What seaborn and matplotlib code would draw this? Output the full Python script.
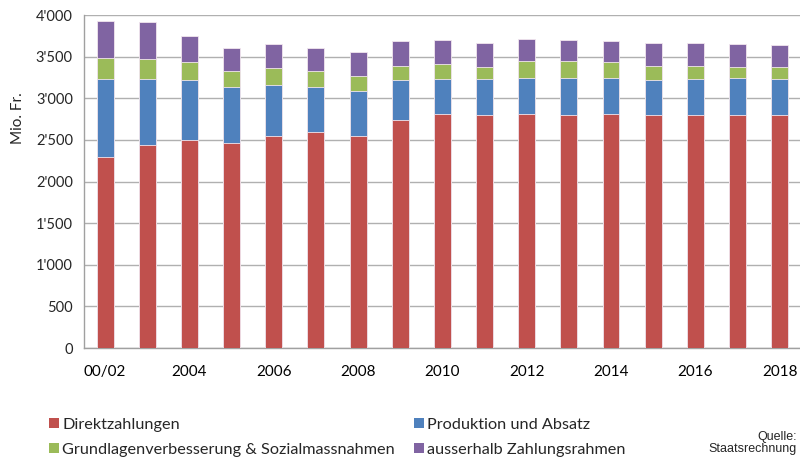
import numpy as np
import pandas as pd
import matplotlib
matplotlib.use("Agg")
import matplotlib.pyplot as plt
import seaborn as sns
from matplotlib.patches import Patch
from matplotlib.ticker import FuncFormatter, FixedLocator

years = ["00/02", "2003", "2004", "2005", "2006", "2007", "2008", "2009", "2010",
         "2011", "2012", "2013", "2014", "2015", "2016", "2017", "2018"]
direktzahlungen = [2290, 2434, 2502, 2466, 2550, 2598, 2542, 2738, 2818, 2802, 2818, 2802, 2818, 2802, 2802, 2802, 2802]
produktion = [944, 800, 720, 672, 609, 540, 541, 477, 416, 432, 432, 448, 432, 424, 432, 448, 432]
grundlagen = [253, 241, 213, 189, 200, 189, 188, 176, 181, 145, 197, 197, 185, 165, 157, 129, 137]
ausserhalb = [437, 437, 316, 280, 292, 280, 284, 304, 292, 292, 268, 260, 260, 280, 272, 272, 272]
series_names = ["Direktzahlungen", "Produktion und Absatz",
                "Grundlagenverbesserung & Sozialmassnahmen", "ausserhalb Zahlungsrahmen"]
colors = ["#C0504D", "#4F81BD", "#9BBB59", "#8064A2"]
shown_labels = ["00/02", "2004", "2006", "2008", "2010", "2012", "2014", "2016", "2018"]

sns.set_style("white")
plt.rcParams["font.family"] = ["Lato", "DejaVu Sans"]

values = [direktzahlungen, produktion, grundlagen, ausserhalb]
cum = np.cumsum(np.array(values, dtype=float), axis=0)

fig = plt.figure(figsize=(8, 4.58), dpi=100)
ax = fig.add_axes([0.105, 0.240, 0.896, 0.727])

for i in range(3, -1, -1):
    df = pd.DataFrame({"year": years, "value": cum[i]})
    sns.barplot(data=df, x="year", y="value", order=years, color=colors[i],
                saturation=1, width=0.40, edgecolor="#f2e6ee", linewidth=0.6,
                ax=ax, zorder=3)

ax.set_xlim(-0.5, len(years) - 0.5)
ax.set_ylim(0, 4000)
ax.set_yticks(np.arange(0, 4001, 500))
ax.yaxis.set_major_formatter(FuncFormatter(lambda v, p: f"{int(v):,}".replace(",", "'")))
ax.grid(axis="y", color="#b0b0b0", linewidth=1, zorder=0)
ax.set_axisbelow(True)

pos = [years.index(l) for l in shown_labels]
ax.set_xticks(pos)
ax.set_xticklabels(shown_labels)
ax.xaxis.set_minor_locator(FixedLocator(np.arange(-0.5, len(years), 1.0)))
ax.tick_params(axis="x", which="major", length=0, pad=12, labelsize=11, colors="#000000")
ax.tick_params(axis="x", which="minor", length=5, width=1, color="#a0a0a0", direction="out")
ax.tick_params(axis="y", which="major", length=4, width=1, color="#a0a0a0", labelsize=10.5, pad=4)
ax.set_xlabel("")
ax.set_ylabel("")

for s in ["top", "right"]:
    ax.spines[s].set_visible(False)
for s in ["left", "bottom"]:
    ax.spines[s].set_color("#a0a0a0")
    ax.spines[s].set_linewidth(1)

fig.text(18 / 800, 1 - 118 / 458, "Mio. Fr.", rotation=90, ha="center", va="center", fontsize=11)

handles = [Patch(facecolor=c, edgecolor="none") for c in colors]
leg_kw = dict(loc="upper left", frameon=False, fontsize=11.7, handlelength=0.6,
              handleheight=0.6, handletextpad=0.2, labelspacing=0.65,
              borderpad=0, borderaxespad=0)
leg1 = fig.legend([handles[0], handles[2]], [series_names[0], series_names[2]],
                  bbox_to_anchor=(49 / 800, 1 - 418 / 458), **leg_kw)
leg2 = fig.legend([handles[1], handles[3]], [series_names[1], series_names[3]],
                  bbox_to_anchor=(414 / 800, 1 - 418 / 458), **leg_kw)

fig.text(797 / 800, 1 - 443 / 458, "Quelle:\nStaatsrechnung", ha="right", va="center",
         fontsize=9, family=["Liberation Sans Narrow", "Liberation Sans", "DejaVu Sans"],
         linespacing=1.1)

fig.savefig("out.png", dpi=100)
